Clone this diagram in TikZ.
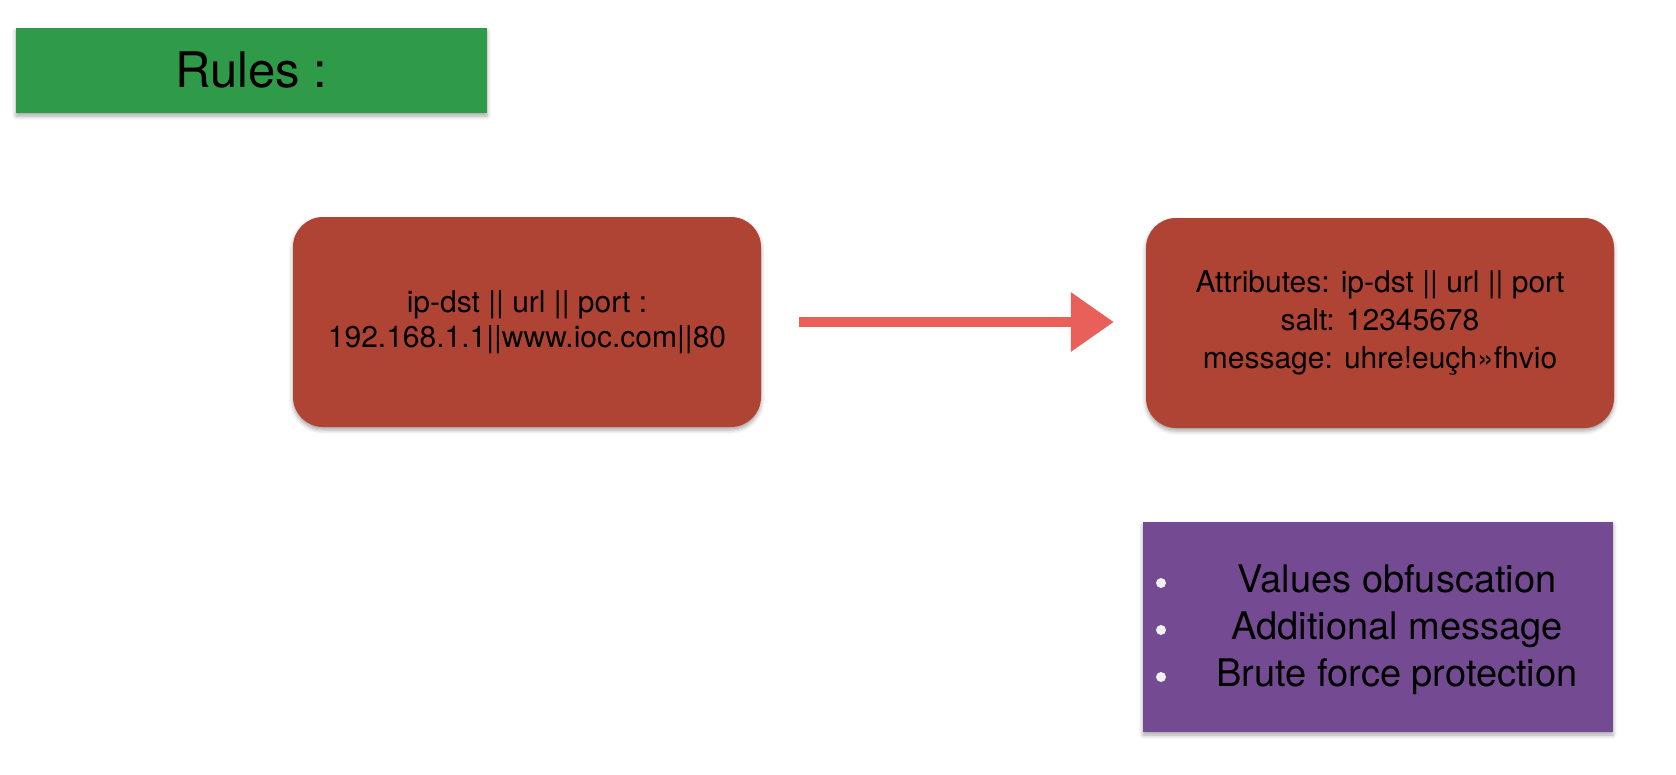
\documentclass[tikz,border=0pt]{standalone}
\usepackage{fontspec}
\setmainfont{TeX Gyre Heros}
\usetikzlibrary{arrows.meta,shadows.blur}
\definecolor{rulesgreen}{HTML}{2F9A47}
\definecolor{boxred}{HTML}{B04434}
\definecolor{boxpurple}{HTML}{744B92}
\definecolor{arrowred}{HTML}{E9605B}
\tikzset{
  card/.style={blur shadow={shadow xshift=0pt, shadow yshift=-3pt, shadow blur radius=4pt, shadow opacity=35}},
  redcard/.style={card, fill=boxred, rounded corners=30pt, minimum width=468pt, minimum height=210pt,
    align=center, font=\fontsize{30}{35}\selectfont, inner sep=0pt},
  bulletdot/.style={circle, fill=white!88!gray, minimum size=10pt, inner sep=0pt},
  flowarrow/.style={draw=arrowred, line width=10pt, -{Triangle[length=43pt,width=57pt]}}
}
\begin{document}
\begin{tikzpicture}[x=1pt,y=-1pt]
\useasboundingbox (0,0) rectangle (1676,774);
\node[card, fill=rulesgreen, minimum width=471pt, minimum height=85pt, inner sep=0pt,
  font=\fontsize{49}{55}\selectfont] (rules) at (251.5,70.5) {Rules :};
\node[redcard] (src) at (527,322) {ip-dst || url || port :\\192.168.1.1||www.ioc.com||80};
\node[redcard, font=\fontsize{30}{38}\selectfont] (dst) at (1380,323)
  {Attributes: ip-dst || url || port\\salt: 12345678\\message: uhre!euçh»fhvio};
\node[card, fill=boxpurple, minimum width=470pt, minimum height=210pt, inner sep=0pt] (props) at (1378,627) {};
\node[align=center, font=\fontsize{38}{47}\selectfont] (proptext) at (1397,630)
  {Values obfuscation\\Additional message\\Brute force protection};
\node[bulletdot] (b1) at (1161,583) {};
\node[bulletdot] (b2) at (1161,630) {};
\node[bulletdot] (b3) at (1161,677) {};
\draw[flowarrow, shorten <=38pt, shorten >=32pt] (src.east) -- (src.east -| dst.west);
\end{tikzpicture}
\end{document}
